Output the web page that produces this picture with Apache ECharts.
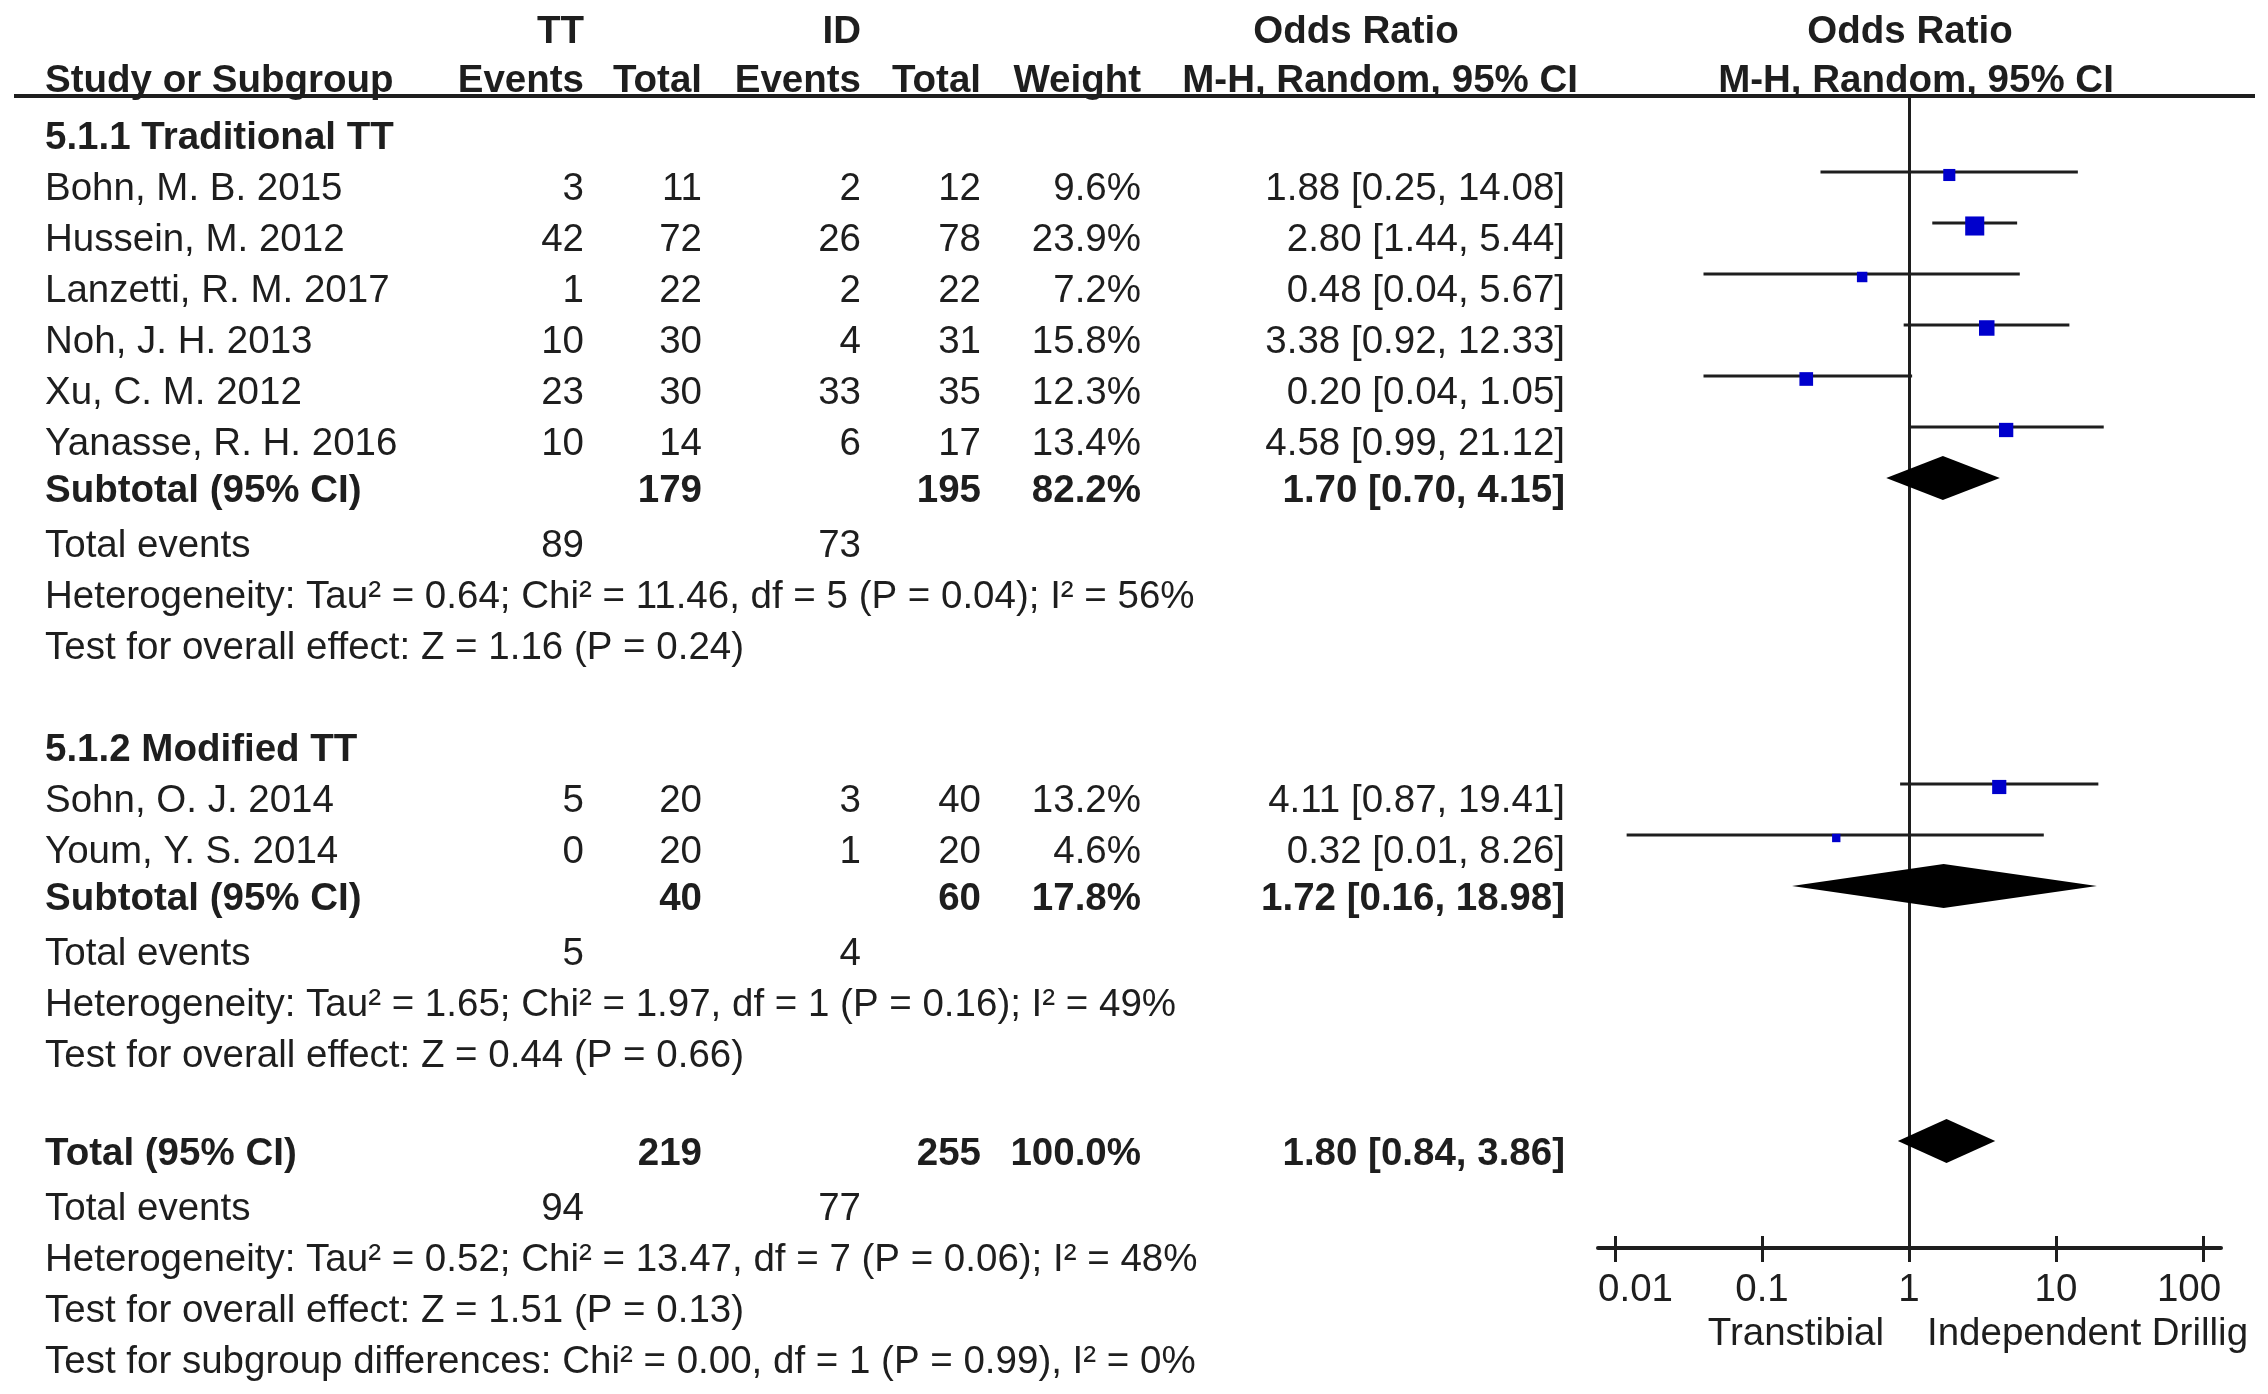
<!DOCTYPE html>
<html>
<head>
<meta charset="utf-8">
<script src="https://cdn.jsdelivr.net/npm/echarts@6/dist/echarts.min.js"></script>
<style>
  html, body { margin: 0; padding: 0; background: #ffffff; }
  #chart { width: 2268px; height: 1394px; }
</style>
</head>
<body>
<div id="chart"></div>
<script>
// ---------------- DATA ----------------
const studies   = ['Bohn, M. B. 2015', 'Hussein, M. 2012', 'Lanzetti, R. M. 2017', 'Noh, J. H. 2013',
                   'Xu, C. M. 2012', 'Yanasse, R. H. 2016', 'Sohn, O. J. 2014', 'Youm, Y. S. 2014'];
const studyGroup = [0, 0, 0, 0, 0, 0, 1, 1];
const ttEvents  = [3, 42, 1, 10, 23, 10, 5, 0];
const ttTotal   = [11, 72, 22, 30, 30, 14, 20, 20];
const idEvents  = [2, 26, 2, 4, 33, 6, 3, 1];
const idTotal   = [12, 78, 22, 31, 35, 17, 40, 20];
const weights   = [9.6, 23.9, 7.2, 15.8, 12.3, 13.4, 13.2, 4.6];
const oddsRatio = [1.88, 2.80, 0.48, 3.38, 0.20, 4.58, 4.11, 0.32];
const ciLower   = [0.25, 1.44, 0.04, 0.92, 0.04, 0.99, 0.87, 0.012];
const ciUpper   = [14.08, 5.44, 5.67, 12.33, 1.05, 21.12, 19.41, 8.26];

const groupNames     = ['5.1.1 Traditional TT', '5.1.2 Modified TT'];
const subTTTotal     = [179, 40];
const subIDTotal     = [195, 60];
const subWeight      = [82.2, 17.8];
const subOR          = [1.70, 1.72];
const subLower       = [0.70, 0.16];
const subUpper       = [4.15, 18.98];
const subTTEvents    = [89, 5];
const subIDEvents    = [73, 4];
const subTau2        = [0.64, 1.65];
const subChi2        = [11.46, 1.97];
const subDf          = [5, 1];
const subHetP        = [0.04, 0.16];
const subI2          = [56, 49];
const subZ           = [1.16, 0.44];
const subZP          = [0.24, 0.66];

const totalTT        = [219, 94];      // total, events
const totalID        = [255, 77];
const totalWeight    = 100.0;
const totalOR        = [1.80, 0.84, 3.86];
const totalHet       = [0.52, 13.47, 7, 0.06, 48];   // Tau2, Chi2, df, P, I2
const totalEffect    = [1.51, 0.13];                  // Z, P
const subgroupDiff   = [0.00, 1, 0.99, 0];            // Chi2, df, P, I2

const tickValues     = [0.01, 0.1, 1, 10, 100];
const tickLabels     = ['0.01', '0.1', '1', '10', '100'];
const favourLabels   = ['Transtibial', 'Independent Drillig'];

// ---------------- LAYOUT ----------------
const FONT = '"Liberation Sans", Arial, Helvetica, sans-serif';
const FS = 38.5;
const INK = '#1e1e1e';
const ROW0 = 138, ROW_H = 51, SUM_SHIFT = -4;
const HDR1 = 32, HDR2 = 81;
const COL = { study: 45, ttE: 584, ttT: 702, idE: 861, idT: 981, w: 1141, ci: 1565 };
const rowY = (s) => ROW0 + ROW_H * s;

const f2 = v => v.toFixed(2);
const ciText = (o, l, h) => `${f2(o)} [${f2(l)}, ${f2(h)}]`;
const hetText = (tau, chi, df, p, i2) =>
  `Heterogeneity: Tau² = ${f2(tau)}; Chi² = ${f2(chi)}, df = ${df} (P = ${f2(p)}); I² = ${i2}%`;
const effText = (z, p) => `Test for overall effect: Z = ${f2(z)} (P = ${f2(p)})`;

const graphics = [];
function txt(x, y, text, align, bold) {
  graphics.push({
    type: 'text', x: x, y: y, silent: true,
    style: {
      text: String(text), fill: INK, fontSize: FS, fontFamily: FONT,
      fontWeight: bold ? 'bold' : 'normal', align: align || 'left', verticalAlign: 'middle'
    }
  });
}

// Header
txt(COL.ttE, HDR1, 'TT', 'right', true);
txt(COL.idE, HDR1, 'ID', 'right', true);
txt(1356, HDR1, 'Odds Ratio', 'center', true);
txt(1910, HDR1, 'Odds Ratio', 'center', true);
txt(COL.study, HDR2, 'Study or Subgroup', 'left', true);
txt(COL.ttE, HDR2, 'Events', 'right', true);
txt(COL.ttT, HDR2, 'Total', 'right', true);
txt(COL.idE, HDR2, 'Events', 'right', true);
txt(COL.idT, HDR2, 'Total', 'right', true);
txt(COL.w, HDR2, 'Weight', 'right', true);
txt(1578, HDR2, 'M-H, Random, 95% CI', 'right', true);
txt(1916, HDR2, 'M-H, Random, 95% CI', 'center', true);
graphics.push({ type: 'line', silent: true, shape: { x1: 14, y1: 96, x2: 2255, y2: 96 },
  style: { stroke: INK, lineWidth: 4 } });

// Rows
const studyData = [];
const diamondData = [];
let slot = 0;
groupNames.forEach((gname, g) => {
  txt(COL.study, rowY(slot), gname, 'left', true);
  slot++;
  studies.forEach((name, i) => {
    if (studyGroup[i] !== g) return;
    const y = rowY(slot);
    txt(COL.study, y, name, 'left');
    txt(COL.ttE, y, ttEvents[i], 'right');
    txt(COL.ttT, y, ttTotal[i], 'right');
    txt(COL.idE, y, idEvents[i], 'right');
    txt(COL.idT, y, idTotal[i], 'right');
    txt(COL.w, y, weights[i].toFixed(1) + '%', 'right');
    txt(COL.ci, y, ciText(oddsRatio[i], ciLower[i], ciUpper[i]), 'right');
    studyData.push([Math.log10(oddsRatio[i]), Math.log10(ciLower[i]), Math.log10(ciUpper[i]), slot, weights[i]]);
    slot++;
  });
  let y = rowY(slot) + SUM_SHIFT;
  txt(COL.study, y, 'Subtotal (95% CI)', 'left', true);
  txt(COL.ttT, y, subTTTotal[g], 'right', true);
  txt(COL.idT, y, subIDTotal[g], 'right', true);
  txt(COL.w, y, subWeight[g].toFixed(1) + '%', 'right', true);
  txt(COL.ci, y, ciText(subOR[g], subLower[g], subUpper[g]), 'right', true);
  diamondData.push([Math.log10(subOR[g]), Math.log10(subLower[g]), Math.log10(subUpper[g]), slot]);
  slot++;
  y = rowY(slot);
  txt(COL.study, y, 'Total events', 'left');
  txt(COL.ttE, y, subTTEvents[g], 'right');
  txt(COL.idE, y, subIDEvents[g], 'right');
  slot++;
  txt(COL.study, rowY(slot), hetText(subTau2[g], subChi2[g], subDf[g], subHetP[g], subI2[g]), 'left');
  slot++;
  txt(COL.study, rowY(slot), effText(subZ[g], subZP[g]), 'left');
  slot++;
  slot++; // blank line
});
{
  let y = rowY(slot) + SUM_SHIFT;
  txt(COL.study, y, 'Total (95% CI)', 'left', true);
  txt(COL.ttT, y, totalTT[0], 'right', true);
  txt(COL.idT, y, totalID[0], 'right', true);
  txt(COL.w, y, totalWeight.toFixed(1) + '%', 'right', true);
  txt(COL.ci, y, ciText(totalOR[0], totalOR[1], totalOR[2]), 'right', true);
  diamondData.push([Math.log10(totalOR[0]), Math.log10(totalOR[1]), Math.log10(totalOR[2]), slot]);
  slot++;
  y = rowY(slot);
  txt(COL.study, y, 'Total events', 'left');
  txt(COL.ttE, y, totalTT[1], 'right');
  txt(COL.idE, y, totalID[1], 'right');
  slot++;
  txt(COL.study, rowY(slot), hetText(totalHet[0], totalHet[1], totalHet[2], totalHet[3], totalHet[4]), 'left');
  slot++;
  txt(COL.study, rowY(slot), effText(totalEffect[0], totalEffect[1]), 'left');
  slot++;
  txt(COL.study, rowY(slot),
    `Test for subgroup differences: Chi² = ${f2(subgroupDiff[0])}, df = ${subgroupDiff[1]} (P = ${f2(subgroupDiff[2])}), I² = ${subgroupDiff[3]}%`, 'left');
}

// favour labels
txt(1884, 1334, favourLabels[0], 'right');
txt(1927, 1334, favourLabels[1], 'left');

// ---------------- CHART ----------------
const tickLogs = tickValues.map(v => Math.log10(v));
const labelOf = {};
tickLogs.forEach((v, i) => {
  const key = i === 0 ? 'first' : (i === tickLogs.length - 1 ? 'last' : 'mid');
  labelOf[v.toFixed(3)] = `{${key}|${tickLabels[i]}}`;
});
const labelStyle = { fontSize: FS, fontFamily: FONT, color: INK };

// plot frame: decade = 147px, 1 at x=1909.5, axis line at y=1248
const X_MIN = -2.1156, X_MAX = 2.1224;
const GRID = { left: 1598, top: 96, width: 623, height: 1152 };
const Y_MIN = -0.49, Y_MAX = (GRID.top + GRID.height - 121) / 51;
const chart = echarts.init(document.getElementById('chart'), null, { renderer: 'canvas' });
chart.setOption({
  backgroundColor: '#ffffff',
  animation: false,
  grid: Object.assign({ containLabel: false }, GRID),
  xAxis: [{
    type: 'value', min: X_MIN, max: X_MAX, position: 'bottom',
    axisLine: { show: true, onZero: false, lineStyle: { color: INK, width: 4 } },
    axisTick: { show: true, inside: false, length: 14, customValues: tickLogs, lineStyle: { color: INK, width: 3 } },
    axisLabel: {
      show: true, customValues: tickLogs, margin: 23, color: INK, fontSize: FS, fontFamily: FONT,
      formatter: v => labelOf[Number(v).toFixed(3)] || '',
      rich: {
        first: Object.assign({ padding: [0, 0, 0, 41] }, labelStyle),
        mid: Object.assign({}, labelStyle),
        last: Object.assign({ padding: [0, 28, 0, 0] }, labelStyle)
      }
    },
    splitLine: { show: false }
  }, {
    type: 'value', min: X_MIN, max: X_MAX, position: 'bottom', offset: 0,
    axisLine: { show: false, onZero: false },
    axisTick: { show: true, inside: true, length: 12, customValues: tickLogs, lineStyle: { color: INK, width: 3 } },
    axisLabel: { show: false },
    splitLine: { show: false }
  }],
  yAxis: {
    type: 'value', min: Y_MIN, max: Y_MAX, inverse: true,
    axisLine: { show: true, onZero: true, onZeroAxisIndex: 0, lineStyle: { color: INK, width: 3 } },
    axisTick: { show: false }, axisLabel: { show: false }, splitLine: { show: false }
  },
  series: [{
    type: 'custom', name: 'studies', data: studyData, clip: false,
    encode: { x: [0, 1, 2], y: 3 },
    renderItem: (params, api) => {
      const s = api.value(3);
      const c = api.coord([api.value(0), s]);
      const l = api.coord([api.value(1), s]);
      const h = api.coord([api.value(2), s]);
      const side = 3.9 * Math.sqrt(api.value(4));
      return {
        type: 'group', children: [
          { type: 'line', shape: { x1: l[0], y1: l[1], x2: h[0], y2: h[1] }, style: { stroke: INK, lineWidth: 3 } },
          { type: 'rect', shape: { x: c[0] - side / 2, y: c[1] + 3 - side / 2, width: side, height: side },
            style: { fill: '#0000CC' } }
        ]
      };
    }
  }, {
    type: 'custom', name: 'pooled', data: diamondData, clip: false,
    encode: { x: [0, 1, 2], y: 3 },
    renderItem: (params, api) => {
      const s = api.value(3);
      const c = api.coord([api.value(0), s]);
      const l = api.coord([api.value(1), s]);
      const h = api.coord([api.value(2), s]);
      const hh = 22;
      return {
        type: 'polygon',
        shape: { points: [[l[0], c[1]], [c[0], c[1] - hh], [h[0], c[1]], [c[0], c[1] + hh]] },
        style: { fill: '#000000' }
      };
    }
  }],
  graphic: graphics
});
</script>
</body>
</html>
